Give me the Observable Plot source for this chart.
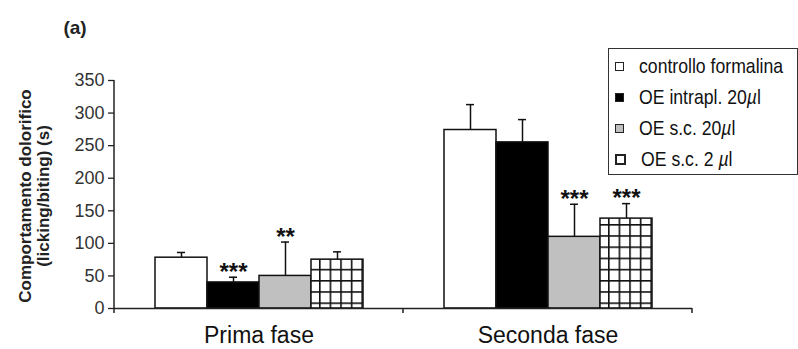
<!DOCTYPE html>
<html><head><meta charset="utf-8">
<script src="https://cdn.jsdelivr.net/npm/d3@7"></script>
<script src="https://cdn.jsdelivr.net/npm/@observablehq/plot@0.6"></script>
<style>
body{margin:0;background:#fff;}
#wrap{position:relative;width:798px;height:349px;overflow:hidden;font-family:"Liberation Sans",Arial,sans-serif;}
#legend{position:absolute;left:608px;top:48px;width:190px;height:127px;border:1px solid #333;box-sizing:border-box;font-family:"Liberation Sans",Arial,sans-serif;font-size:21px;color:#111;}
#legend .row{position:absolute;left:0;height:30px;display:flex;align-items:center;white-space:nowrap;}
#legend .sw{width:7px;height:7px;border:1.5px solid #222;margin-left:6px;margin-right:15px;flex:none;}
#legend .tx{display:inline-block;transform:scaleX(0.84);transform-origin:0 50%;}
#legend i{font-style:italic;}
</style>
</head><body>
<div id="wrap"></div>
<script>
const phases = ["Prima fase", "Seconda fase"];
const series = ["controllo formalina", "OE intrapl. 20µl", "OE s.c. 20µl", "OE s.c. 2 µl"];
const primaValues = [78, 40, 50, 75];
const primaErrors = [8, 8, 52, 12];
const secondaValues = [274, 255, 110, 138];
const secondaErrors = [39, 35, 50, 23];
const primaStars = ["", "***", "**", ""];
const secondaStars = ["", "", "***", "***"];
const yTicks = [0, 50, 100, 150, 200, 250, 300, 350];
const seriesFills = ["white", "black", "#c0c0c0", "url(#checker)"];
const yLabelLines = ["Comportamento dolorifico", "(licking/biting) (s)"];
const panelTag = "(a)";

const values = [primaValues, secondaValues];
const errors = [primaErrors, secondaErrors];
const stars = [primaStars, secondaStars];
const rows = [];
phases.forEach((p, pi) => series.forEach((s, si) => rows.push({
  phase: p, series: s, value: values[pi][si], top: values[pi][si] + errors[pi][si], stars: stars[pi][si]
})));

const chart = Plot.plot({
  width: 798, height: 349,
  marginLeft: 113, marginRight: 106, marginTop: 80, marginBottom: 41,
  style: {fontFamily: "Liberation Sans, Arial, sans-serif", background: "white", color: "#222", overflow: "visible"},
  fx: {domain: phases, padding: 0, label: null},
  x: {domain: series, paddingInner: 0, paddingOuter: 0.75, axis: null},
  y: {domain: [0, 350], label: null},
  color: {domain: series, range: seriesFills},
  marks: [
    Plot.axisFx({anchor: "bottom", tickSize: 0, tickPadding: 18, fontSize: 23, label: null, fill: "#111"}),
    Plot.axisY({ticks: yTicks, tickSize: 6, tickPadding: 4, fontSize: 18, label: null, fill: "#333", stroke: "#222", strokeWidth: 1.3}),
    Plot.barY(rows, {fx: "phase", x: "series", y: "value", fill: "series", stroke: "#111", strokeWidth: 1.5}),
    Plot.ruleX(rows, {fx: "phase", x: "series", y1: "value", y2: "top", stroke: "#111", strokeWidth: 1.5}),
    Plot.tickY(rows, {fx: "phase", x: "series", y: "top", insetLeft: 22, insetRight: 22, stroke: "#111", strokeWidth: 1.5}),
    Plot.text(rows, {fx: "phase", x: "series", y: "top", text: "stars", dy: -5, fontSize: 24, fontWeight: "bold", fill: "#111"}),
    Plot.ruleY([0], {stroke: "#222", strokeWidth: 1.5})
  ]
});

const svg = d3.select(chart);
// checker pattern
const defs = svg.insert("defs", ":first-child");
const pat = defs.append("pattern").attr("id", "checker").attr("patternUnits", "userSpaceOnUse")
  .attr("width", 10.6).attr("height", 11.2);
pat.append("rect").attr("width", 10.6).attr("height", 11.2).attr("fill", "white");
pat.append("rect").attr("width", 1.6).attr("height", 11.2).attr("fill", "#111");
pat.append("rect").attr("width", 10.6).attr("height", 1.6).attr("fill", "#111");

// y axis line and category boundary ticks from the library's scales
const ys = chart.scale("y"), fxs = chart.scale("fx");
const y0 = ys.apply(0), yTop = ys.apply(350);
const left = fxs.apply(phases[0]);
svg.append("line").attr("x1", left).attr("x2", left).attr("y1", yTop).attr("y2", y0 + 5)
  .attr("stroke", "#222").attr("stroke-width", 1.5);
phases.forEach(p => {
  const xr = fxs.apply(p) + fxs.bandwidth;
  svg.append("line").attr("x1", xr).attr("x2", xr).attr("y1", y0).attr("y2", y0 + 5)
    .attr("stroke", "#222").attr("stroke-width", 1.5);
});
// y label
const gl = svg.append("g").attr("transform", "translate(25,196) rotate(-90)")
  .attr("font-weight", "bold").attr("font-size", 17).attr("fill", "#222").attr("text-anchor", "middle");
yLabelLines.forEach((t, i) => gl.append("text").attr("y", i * 18).attr("dy", "0.35em").text(t));
// panel tag
svg.append("text").attr("x", 75).attr("y", 34).attr("font-weight", "bold").attr("font-size", 19)
  .attr("fill", "#222").text(panelTag);

const wrap = document.getElementById("wrap");
wrap.appendChild(chart);

// legend
const lg = document.createElement("div");
lg.id = "legend";
const rowTops = [0, 31, 62, 93];
series.forEach((s, i) => {
  const r = document.createElement("div");
  r.className = "row";
  r.style.top = (rowTops[i] + 2) + "px";
  const sw = document.createElement("span");
  sw.className = "sw";
  sw.style.background = i === 3 ? "white" : seriesFills[i];
  if (i === 3) sw.style.borderWidth = "2px";
  r.appendChild(sw);
  const t = document.createElement("span");
  t.className = "tx";
  t.innerHTML = s.replace("µ", "<i>µ</i>");
  r.appendChild(t);
  lg.appendChild(r);
});
wrap.appendChild(lg);
</script>
</body></html>
